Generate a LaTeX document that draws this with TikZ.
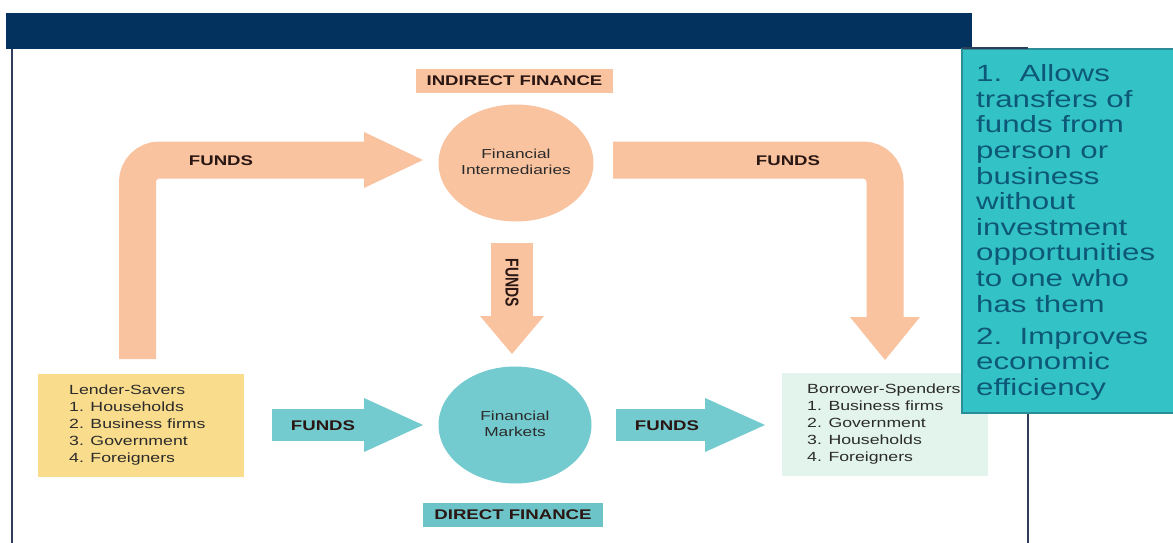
\documentclass[tikz,border=0pt]{standalone}
\usepackage{fontspec}
\setmainfont{Liberation Sans}
\usepackage{graphicx}
\usetikzlibrary{shapes.geometric,calc}
\definecolor{navy}{HTML}{04325F}
\definecolor{framec}{HTML}{2E3D5A}
\definecolor{peach}{HTML}{F9C3A0}
\definecolor{tealc}{HTML}{73CBCF}
\definecolor{tealdark}{HTML}{6CC4C9}
\definecolor{goldc}{HTML}{F9DC8C}
\definecolor{mintc}{HTML}{E2F4EC}
\definecolor{infoc}{HTML}{33C3C7}
\definecolor{infoedge}{HTML}{2A8E98}
\definecolor{infotext}{HTML}{0E5877}
\definecolor{labtext}{HTML}{2A1612}
\definecolor{listtext}{HTML}{2B2B2B}
\newcommand{\wl}[1]{\scalebox{1.33}[1]{\begin{tabular}{@{}l@{}}#1\end{tabular}}}
\newcommand{\wc}[1]{\scalebox{1.33}[1]{\begin{tabular}{@{}c@{}}#1\end{tabular}}}
\newcommand{\ws}[1]{\scalebox{1.33}[1]{#1}}
\newcommand{\wv}[1]{\scalebox{1}[1.33]{#1}}
\begin{document}
\begin{tikzpicture}[x=1pt,y=-1pt,
  circ/.style={ellipse, minimum width=153pt, minimum height=117pt, inner sep=0pt,
    text=listtext, font=\fontsize{13}{16}\selectfont},
  lab/.style={inner sep=0pt, text=labtext, font=\bfseries\fontsize{14}{16}\selectfont},
  fundslab/.style={inner sep=0pt, text=labtext, font=\bfseries\fontsize{14}{16}\selectfont},
  box/.style={inner sep=0pt, minimum width=206pt, minimum height=103pt},
  listtxt/.style={anchor=north west, inner sep=0pt, text=listtext, font=\fontsize{13.3}{16.8}\selectfont},
  shaft/.style={line width=37pt, rounded corners=22pt}]
\useasboundingbox (0,0) rectangle (1173,543);
\fill[white] (0,0) rectangle (1173,543);
% header bar and frame
\fill[navy] (6,13) rectangle (972,49);
\coordinate (fl0) at (12,49);
\coordinate (fl1) at (12,543);
\draw[framec, line width=2.5pt] (fl0) -- (fl1);
\coordinate (fr0) at (1028,412);
\coordinate (fr1) at (1028,543);
\draw[framec, line width=2.5pt] (fr0) -- (fr1);
% nodes
\node[circ, fill=peach] (fi) at (516,163) {\wc{Financial\\Intermediaries}};
\node[circ, fill=tealc] (fm) at (515,425) {\wc{Financial\\Markets}};
\node[lab, fill=peach, minimum width=197pt, minimum height=24pt] (ind) at (514.5,81) {\ws{INDIRECT FINANCE}};
\node[lab, fill=tealdark, minimum width=180pt, minimum height=24pt] (dir) at (513,515) {\ws{DIRECT FINANCE}};
\node[box, fill=goldc] (ls) at (141,425) {};
\node[listtxt] (lst) at (69,383) {\wl{Lender-Savers\\1. Households\\2. Business firms\\3. Government\\4. Foreigners}};
\node[box, fill=mintc] (bs) at (885,424.5) {};
\node[listtxt] (bst) at (807,382) {\wl{Borrower-Spenders\\1. Business firms\\2. Government\\3. Households\\4. Foreigners}};
% indirect arrows (peach)
\coordinate (a1s) at (137.5,359);
\coordinate (a1e) at (365,160);
\coordinate (a1t) at (423,160);
\draw[peach, shaft] (a1s) |- (a1e);
\fill[peach] ($(a1t)+(-59,-28)$) -- (a1t) -- ($(a1t)+(-59,28)$) -- cycle;
\coordinate (a2s) at (613,160);
\coordinate (a2e) at (885,318);
\coordinate (a2t) at (885,360);
\draw[peach, shaft] (a2s) -| (a2e);
\fill[peach] ($(a2t)+(-35,-43)$) -- (a2t) -- ($(a2t)+(35,-43)$) -- cycle;
\coordinate (a3s) at (512,243);
\coordinate (a3e) at (512,317);
\coordinate (a3t) at (512,354);
\draw[peach, line width=42pt] (a3s) -- (a3e);
\fill[peach] ($(a3t)+(-32,-38)$) -- (a3t) -- ($(a3t)+(32,-38)$) -- cycle;
% direct arrows (teal)
\coordinate (b1s) at (272,425);
\coordinate (b1e) at (365,425);
\coordinate (b1t) at (423,425);
\draw[tealc, line width=32pt] (b1s) -- (b1e);
\fill[tealc] ($(b1t)+(-59,-27)$) -- (b1t) -- ($(b1t)+(-59,27)$) -- cycle;
\coordinate (b2s) at (616,425);
\coordinate (b2e) at (706,425);
\coordinate (b2t) at (765,425);
\draw[tealc, line width=32pt] (b2s) -- (b2e);
\fill[tealc] ($(b2t)+(-60,-27)$) -- (b2t) -- ($(b2t)+(-60,27)$) -- cycle;
% FUNDS labels
\node[fundslab] (f1) at (221,161) {\ws{FUNDS}};
\node[fundslab] (f2) at (788,161) {\ws{FUNDS}};
\node[fundslab, rotate=-90] (f3) at (512,283) {\wv{FUNDS}};
\node[fundslab] (f4) at (323,426) {\ws{FUNDS}};
\node[fundslab] (f5) at (667,426) {\ws{FUNDS}};
% info box
\node[draw=infoedge, line width=1.2pt, fill=infoc, inner sep=0pt, minimum width=220pt, minimum height=364pt] (info) at (1072,231) {};
\coordinate (ft0) at (962,48.5);
\coordinate (ft1) at (1028,48.5);
\draw[framec, line width=2pt] (ft0) -- (ft1);
\node[anchor=north west, inner sep=0pt, text=infotext, font=\fontsize{23.5}{25.6}\selectfont] (infot) at (976,63.5)
  {\wl{1.\ \ Allows\\transfers of\\funds from\\person or\\business\\without\\investment\\opportunities\\to one who\\has them\\[6.4pt]2.\ \ Improves\\economic\\efficiency}};
\end{tikzpicture}
\end{document}
